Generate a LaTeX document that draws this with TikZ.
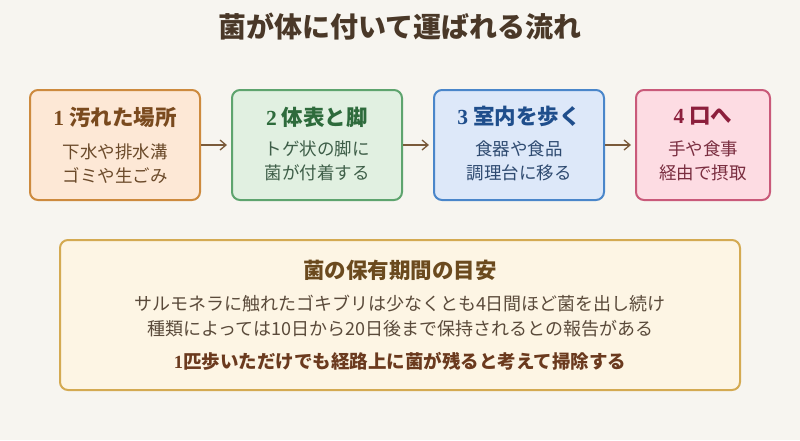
\documentclass[tikz,border=0pt]{standalone}
\usepackage{fontspec}
\setmainfont{Noto Sans CJK JP}
\newfontfamily\numfont{Liberation Serif}
\usetikzlibrary{arrows.meta}
\definecolor{bg}{HTML}{F7F5F0}
\definecolor{titlec}{HTML}{4A3828}
\definecolor{aFill}{HTML}{FDE8D6}\definecolor{aLine}{HTML}{CD8A3E}\definecolor{aHead}{HTML}{7A4A1E}\definecolor{aText}{HTML}{6B4A2A}
\definecolor{bFill}{HTML}{E1F0E1}\definecolor{bLine}{HTML}{5EA46E}\definecolor{bHead}{HTML}{2E6B3C}\definecolor{bText}{HTML}{3E5E48}
\definecolor{cFill}{HTML}{DDE8F9}\definecolor{cLine}{HTML}{4A86CA}\definecolor{cHead}{HTML}{1F4E8C}\definecolor{cText}{HTML}{2E4A70}
\definecolor{dFill}{HTML}{FDDCE3}\definecolor{dLine}{HTML}{C95A7A}\definecolor{dHead}{HTML}{8C1F3C}\definecolor{dText}{HTML}{7A2E40}
\definecolor{eFill}{HTML}{FDF5E4}\definecolor{eLine}{HTML}{D4AA52}\definecolor{eHead}{HTML}{6B4A1E}\definecolor{eText}{HTML}{5A4A3A}\definecolor{eLast}{HTML}{6B3A1E}
\definecolor{arr}{HTML}{7A5A3A}
\begin{document}
\begin{tikzpicture}[x=1pt,y=-1pt,
  stepbox/.style={draw,line width=2pt,rounded corners=8pt},
  headtxt/.style={font=\bfseries\fontsize{21.5}{24}\selectfont,anchor=center},
  bodytxt/.style={font=\fontsize{17.5}{24}\selectfont,align=center,anchor=center},
  flow/.style={draw=arr,line width=1.3pt,shorten >=4pt,-{Straight Barb[length=6pt,width=10pt,line width=1.3pt]}}]
\fill[bg] (0,0) rectangle (800,440);
\useasboundingbox (0,0) rectangle (800,440);
\node[titlec,font=\bfseries\fontsize{28}{32}\selectfont] (title) at (400,27) {菌が体に付いて運ばれる流れ};
% boxes
\node[stepbox,draw=aLine,fill=aFill,minimum width=170pt,minimum height=110pt] (b1) at (115,145) {};
\node[stepbox,draw=bLine,fill=bFill,minimum width=170pt,minimum height=110pt] (b2) at (317,145) {};
\node[stepbox,draw=cLine,fill=cFill,minimum width=170pt,minimum height=110pt] (b3) at (519,145) {};
\node[stepbox,draw=dLine,fill=dFill,minimum width=134pt,minimum height=110pt] (b4) at (703,145) {};
\node[headtxt,aHead] (h1) at (115,117) {{\numfont 1} 汚れた場所};
\node[bodytxt,aText] (t1) at (115,164) {下水や排水溝\\ゴミや生ごみ};
\node[headtxt,bHead] (h2) at (317,117) {{\numfont 2} 体表と脚};
\node[bodytxt,bText] (t2) at (317,161) {トゲ状の脚に\\菌が付着する};
\node[headtxt,cHead] (h3) at (519,116) {{\numfont 3} 室内を歩く};
\node[bodytxt,cText] (t3) at (519,161) {食器や食品\\調理台に移る};
\node[headtxt,dHead] (h4) at (703,116) {{\numfont 4} 口へ};
\node[bodytxt,dText] (t4) at (703,161) {手や食事\\経由で摂取};
\draw[flow] (b1.east) -- (b2.west);
\draw[flow] (b2.east) -- (b3.west);
\draw[flow] (b3.east) -- (b4.west);
% bottom box
\node[stepbox,draw=eLine,fill=eFill,minimum width=680pt,minimum height=150pt] (note) at (400,315) {};
\node[eHead,font=\bfseries\fontsize{21.5}{24}\selectfont] (nh) at (400,270) {菌の保有期間の目安};
\node[bodytxt,eText,font=\fontsize{18}{25}\selectfont] (nt) at (400,316) {サルモネラに触れたゴキブリは少なくとも4日間ほど菌を出し続け\\種類によっては10日から20日後まで保持されるとの報告がある};
\node[eLast,font=\bfseries\fontsize{18.5}{20}\selectfont] (nl) at (400,361) {{\numfont 1}匹歩いただけでも経路上に菌が残ると考えて掃除する};
\end{tikzpicture}
\end{document}
